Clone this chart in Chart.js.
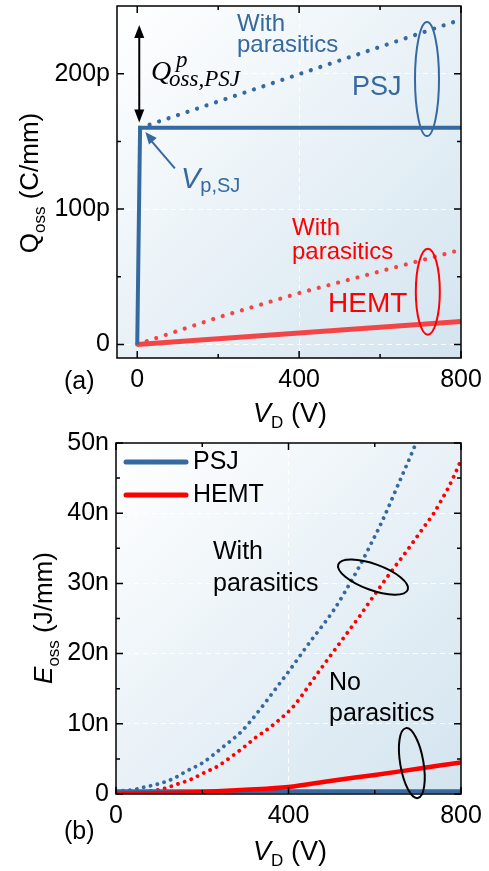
<!DOCTYPE html>
<html>
<head>
  <title>Qoss / Eoss</title>
  <script src="https://cdn.jsdelivr.net/npm/chart.js"></script>
  <style>
    body { margin: 0; background: #fff; }
    .box { position: absolute; left: 0; width: 489px; }
    #boxA { top: 0; height: 440px; }
    #boxB { top: 420px; height: 451px; }
  </style>
</head>
<body>
  <div class="box" id="boxA"><canvas id="chartA"></canvas></div>
  <div class="box" id="boxB"><canvas id="chartB"></canvas></div>
  <script>
    // (a) Qoss vs VD, pC/mm
    const qPsjV = [0, 7, 800];
    const qPsjQ = [0, 160, 160];
    const qPsjParV = [7, 800];
    const qPsjParQ = [160, 240];
    const qHemtV = [0, 800];
    const qHemtQ = [0, 17];
    const qHemtParV = [0, 200, 400, 600, 800];
    const qHemtParQ = [0, 20, 38, 54, 70];
    const qTicksX = [0, 400, 800];
    const qTicksY = [0, 100, 200];

    // (b) Eoss vs VD, nJ/mm
    const ePsjV = [0, 800];
    const ePsjE = [0.4, 0.4];
    const eHemtV = [0, 100, 200, 300, 400, 500, 600, 700, 800];
    const eHemtE = [0, 0.1, 0.3, 0.6, 1.0, 1.9, 2.7, 3.6, 4.5];
    const ePsjParV = [0, 40, 67, 102, 133, 165, 200, 226, 256, 284, 307, 342, 374, 407, 449, 474, 505, 531, 566, 591, 616, 637, 658, 680, 695, 720];
    const ePsjParE = [0.4, 0.6, 1.0, 1.5, 2.2, 3.3, 4.4, 5.6, 7.1, 8.5, 10.0, 12.7, 15.3, 18.0, 21.6, 23.6, 26.2, 28.8, 32.6, 35.6, 38.7, 41.6, 44.6, 47.7, 49.9, 53.5];
    const eHemtParV = [0, 60, 107, 142, 174, 207, 237, 267, 295, 323, 353, 381, 409, 440, 449, 544, 567, 586, 609, 630, 653, 674, 695, 716, 737, 756, 772, 786, 800];
    const eHemtParE = [0, 0.3, 0.7, 1.4, 2.1, 3.1, 4.0, 5.3, 6.6, 8.0, 9.3, 10.7, 12.3, 14.8, 15.6, 23.6, 25.5, 27.2, 29.2, 31.0, 32.9, 34.6, 36.4, 38.2, 40.0, 42.0, 43.8, 45.6, 47.6];
    const eTicksX = [0, 400, 800];
    const eTicksY = [0, 10, 20, 30, 40, 50];
    const legendNames = ['PSJ', 'HEMT'];

    const blue = '#35699f';
    const redA = '#f24545';
    const red = '#ff0000';
    const sans = 'Liberation Sans, Arial, sans-serif';
    const serif = 'Liberation Serif, Times New Roman, serif';

    function xy(xs, ys) { return xs.map((x, i) => ({ x: x, y: ys[i] })); }

    function segs(ctx, parts, x, y, align) {
      let w = 0;
      parts.forEach(p => { ctx.font = p[1]; w += ctx.measureText(p[0]).width; });
      let cx = align === 'center' ? x - w / 2 : x;
      ctx.textAlign = 'left';
      parts.forEach(p => {
        ctx.font = p[1];
        ctx.fillText(p[0], cx, y + (p[2] || 0));
        cx += ctx.measureText(p[0]).width;
      });
    }

    function arrowHead(ctx, x1, y1, x2, y2, len, half) {
      const a = Math.atan2(y2 - y1, x2 - x1);
      ctx.beginPath();
      ctx.moveTo(x2, y2);
      ctx.lineTo(x2 - len * Math.cos(a) + half * Math.sin(a), y2 - len * Math.sin(a) - half * Math.cos(a));
      ctx.lineTo(x2 - len * Math.cos(a) - half * Math.sin(a), y2 - len * Math.sin(a) + half * Math.cos(a));
      ctx.closePath();
      ctx.fill();
    }

    function label(ctx, text, x, y, font, color) {
      ctx.font = font; ctx.fillStyle = color;
      ctx.textAlign = 'left'; ctx.textBaseline = 'middle';
      ctx.fillText(text, x, y);
    }

    function ring(ctx, cx, cy, rx, ry, rot, color) {
      ctx.strokeStyle = color; ctx.lineWidth = 2;
      ctx.beginPath(); ctx.ellipse(cx, cy, rx, ry, rot, 0, Math.PI * 2); ctx.stroke();
    }

    // gradient behind the plot
    const plotBg = {
      id: 'plotBg',
      beforeDraw(chart) {
        const { ctx, chartArea: a } = chart;
        const g = ctx.createLinearGradient(a.left, a.top, a.right, a.bottom);
        g.addColorStop(0, '#ffffff');
        g.addColorStop(1, '#d3e4ef');
        ctx.save();
        ctx.fillStyle = g;
        ctx.fillRect(a.left, a.top, a.right - a.left, a.bottom - a.top);
        ctx.restore();
      }
    };

    // frame + inward ticks on all four sides
    const frame = {
      id: 'frame',
      afterDraw(chart, args, o) {
        const { ctx, chartArea: a, scales } = chart;
        ctx.save();
        ctx.strokeStyle = '#000';
        ctx.lineWidth = 1.5;
        const tick = (vals, len, horiz) => vals.forEach(v => {
          ctx.beginPath();
          if (horiz) {
            const x = scales.x.getPixelForValue(v);
            ctx.moveTo(x, a.bottom); ctx.lineTo(x, a.bottom - len);
            ctx.moveTo(x, a.top); ctx.lineTo(x, a.top + len);
          } else {
            const y = scales.y.getPixelForValue(v);
            ctx.moveTo(a.left, y); ctx.lineTo(a.left + len, y);
            ctx.moveTo(a.right, y); ctx.lineTo(a.right - len, y);
          }
          ctx.stroke();
        });
        tick(o.xMajor, 7, true); tick(o.xMinor, 4, true);
        tick(o.yMajor, 7, false); tick(o.yMinor, 4, false);
        ctx.strokeRect(a.left, a.top, a.right - a.left, a.bottom - a.top);
        ctx.restore();
      }
    };

    function scaleOpts(min, max, ticks, fmt, w, h) {
      return {
        type: 'linear', min: min, max: max,
        afterBuildTicks: s => { s.ticks = ticks.map(v => ({ value: v })); },
        afterFit: s => {
          if (w) s.width = w;
          if (h) s.height = h;
          s.paddingTop = 0; s.paddingBottom = 0; s.paddingLeft = 0; s.paddingRight = 0;
        },
        grid: { color: 'rgba(255,255,255,0.95)', lineWidth: 1, drawTicks: false },
        border: { display: false, dash: [5, 4] },
        ticks: { color: '#000', font: { family: sans, size: 25 }, padding: 7, callback: fmt, maxRotation: 0 }
      };
    }

    const base = {
      responsive: true, maintainAspectRatio: false, animation: false,
      plugins: { legend: { display: false }, tooltip: { enabled: false } },
      elements: { point: { radius: 0 } }
    };

    const annotA = {
      id: 'annotA',
      afterDraw(chart) {
        const { ctx } = chart;
        const X = v => chart.scales.x.getPixelForValue(v);
        const Y = v => chart.scales.y.getPixelForValue(v);
        ctx.save();
        // double arrow Qoss^p
        ctx.strokeStyle = '#000'; ctx.fillStyle = '#000'; ctx.lineWidth = 2;
        ctx.beginPath(); ctx.moveTo(X(5), Y(228)); ctx.lineTo(X(5), Y(170)); ctx.stroke();
        arrowHead(ctx, X(5), Y(200), X(5), Y(236), 13, 5);
        arrowHead(ctx, X(5), Y(200), X(5), Y(164), 13, 5);
        ctx.textBaseline = 'alphabetic'; ctx.textAlign = 'left';
        ctx.font = 'italic 28px ' + serif;
        ctx.fillText('Q', 151, 80);
        ctx.font = 'italic 23px ' + serif;
        ctx.fillText('p', 176, 67);
        ctx.fillText('oss,PSJ', 169, 86);
        // Vp,SJ arrow
        ctx.strokeStyle = blue; ctx.fillStyle = blue;
        ctx.beginPath(); ctx.moveTo(X(93), Y(130)); ctx.lineTo(X(30), Y(152)); ctx.stroke();
        arrowHead(ctx, X(93), Y(130), X(20), Y(157), 12, 5);
        ctx.textBaseline = 'alphabetic';
        segs(ctx, [['V', 'italic 29px ' + sans], ['p,SJ', '20px ' + sans, 4]], 181, 188, 'left');
        // texts
        label(ctx, 'With', 237, 24, '24px ' + sans, blue);
        label(ctx, 'parasitics', 237, 45, '24px ' + sans, blue);
        label(ctx, 'PSJ', 352, 88, '27px ' + sans, blue);
        label(ctx, 'With', 292, 228, '24px ' + sans, red);
        label(ctx, 'parasitics', 292, 252, '24px ' + sans, red);
        label(ctx, 'HEMT', 328, 304, '28px ' + sans, red);
        ring(ctx, X(716), Y(196), 12, 57, 0, blue);
        ring(ctx, X(718), Y(39), 12, 43, 0, red);
        // axis titles and panel tag
        ctx.fillStyle = '#000'; ctx.textBaseline = 'alphabetic';
        segs(ctx, [['V', 'italic 27px ' + sans], ['D', '17px ' + sans, 6], [' (V)', '27px ' + sans]], 290, 422, 'center');
        label(ctx, '(a)', 64, 382, '25px ' + sans, '#000');
        ctx.translate(38, 183); ctx.rotate(-Math.PI / 2);
        ctx.textBaseline = 'alphabetic';
        segs(ctx, [['Q', '26px ' + sans], ['oss', '17px ' + sans, 7], [' (C/mm)', '26px ' + sans]], 0, 0, 'center');
        ctx.restore();
      }
    };

    const annotB = {
      id: 'annotB',
      afterDraw(chart) {
        const { ctx } = chart;
        const X = v => chart.scales.x.getPixelForValue(v);
        const Y = v => chart.scales.y.getPixelForValue(v);
        ctx.save();
        // legend
        [blue, red].forEach((c, i) => {
          const y = 42 + i * 33;
          ctx.strokeStyle = c; ctx.lineWidth = 5; ctx.lineCap = 'round';
          ctx.beginPath(); ctx.moveTo(126, y); ctx.lineTo(186, y); ctx.stroke();
          label(ctx, legendNames[i], 193, y, '25px ' + sans, '#000');
        });
        label(ctx, 'With', 213, 132, '25px ' + sans, '#000');
        label(ctx, 'parasitics', 213, 164, '25px ' + sans, '#000');
        label(ctx, 'No', 329, 263, '25px ' + sans, '#000');
        label(ctx, 'parasitics', 329, 294, '25px ' + sans, '#000');
        ring(ctx, X(596), Y(30.9), 37, 13, 0.35, '#000');
        ring(ctx, X(686), Y(4.4), 11.6, 35.5, -0.17, '#000');
        ctx.fillStyle = '#000'; ctx.textBaseline = 'alphabetic';
        segs(ctx, [['V', 'italic 27px ' + sans], ['D', '17px ' + sans, 6], [' (V)', '27px ' + sans]], 290, 440, 'center');
        label(ctx, '(b)', 64, 412, '25px ' + sans, '#000');
        ctx.translate(52, 198); ctx.rotate(-Math.PI / 2);
        ctx.textBaseline = 'alphabetic';
        segs(ctx, [['E', 'italic 26px ' + sans], ['oss', '17px ' + sans, 7], [' (J/mm)', '26px ' + sans]], 0, 0, 'center');
        ctx.restore();
      }
    };

    const dotted = (w, gap) => ({ borderWidth: w, borderDash: [0.01, gap], borderCapStyle: 'round' });

    new Chart(document.getElementById('chartA'), {
      type: 'line',
      data: {
        datasets: [
          { label: 'PSJ', data: xy(qPsjV, qPsjQ), borderColor: blue, borderWidth: 4 },
          { label: 'HEMT', data: xy(qHemtV, qHemtQ), borderColor: redA, borderWidth: 5 },
          Object.assign({ label: 'PSJ parasitics', data: xy(qPsjParV, qPsjParQ), borderColor: blue }, dotted(4.2, 10)),
          Object.assign({ label: 'HEMT parasitics', data: xy(qHemtParV, qHemtParQ), borderColor: redA }, dotted(4.2, 10))
        ]
      },
      options: Object.assign({}, base, {
        layout: { padding: { top: 6, right: 28, left: 0, bottom: 0 } },
        scales: {
          x: scaleOpts(-50, 800, qTicksX, v => String(v), 0, 82),
          y: scaleOpts(-10, 250, qTicksY, v => v === 0 ? '0' : v + 'p', 117, 0)
        },
        plugins: Object.assign({}, base.plugins, {
          frame: { xMajor: qTicksX, xMinor: [200, 600], yMajor: qTicksY, yMinor: [50, 150] }
        })
      }),
      plugins: [plotBg, frame, annotA]
    });

    new Chart(document.getElementById('chartB'), {
      type: 'line',
      data: {
        datasets: [
          { label: 'HEMT', data: xy(eHemtV, eHemtE), borderColor: red, borderWidth: 4.5, cubicInterpolationMode: 'monotone' },
          { label: 'PSJ', data: xy(ePsjV, ePsjE), borderColor: blue, borderWidth: 4 },
          Object.assign({ label: 'PSJ parasitics', data: xy(ePsjParV, ePsjParE), borderColor: blue, cubicInterpolationMode: 'monotone' }, dotted(3.8, 7)),
          Object.assign({ label: 'HEMT parasitics', data: xy(eHemtParV, eHemtParE), borderColor: red, cubicInterpolationMode: 'monotone' }, dotted(3.8, 7))
        ]
      },
      options: Object.assign({}, base, {
        layout: { padding: { top: 23, right: 28, left: 0, bottom: 0 } },
        scales: {
          x: scaleOpts(0, 800, eTicksX, v => String(v), 0, 77),
          y: scaleOpts(0, 50, eTicksY, v => v === 0 ? '0' : v + 'n', 116, 0)
        },
        plugins: Object.assign({}, base.plugins, {
          frame: { xMajor: eTicksX, xMinor: [200, 600], yMajor: eTicksY, yMinor: [5, 15, 25, 35, 45] }
        })
      }),
      plugins: [plotBg, frame, annotB]
    });
  </script>
</body>
</html>
